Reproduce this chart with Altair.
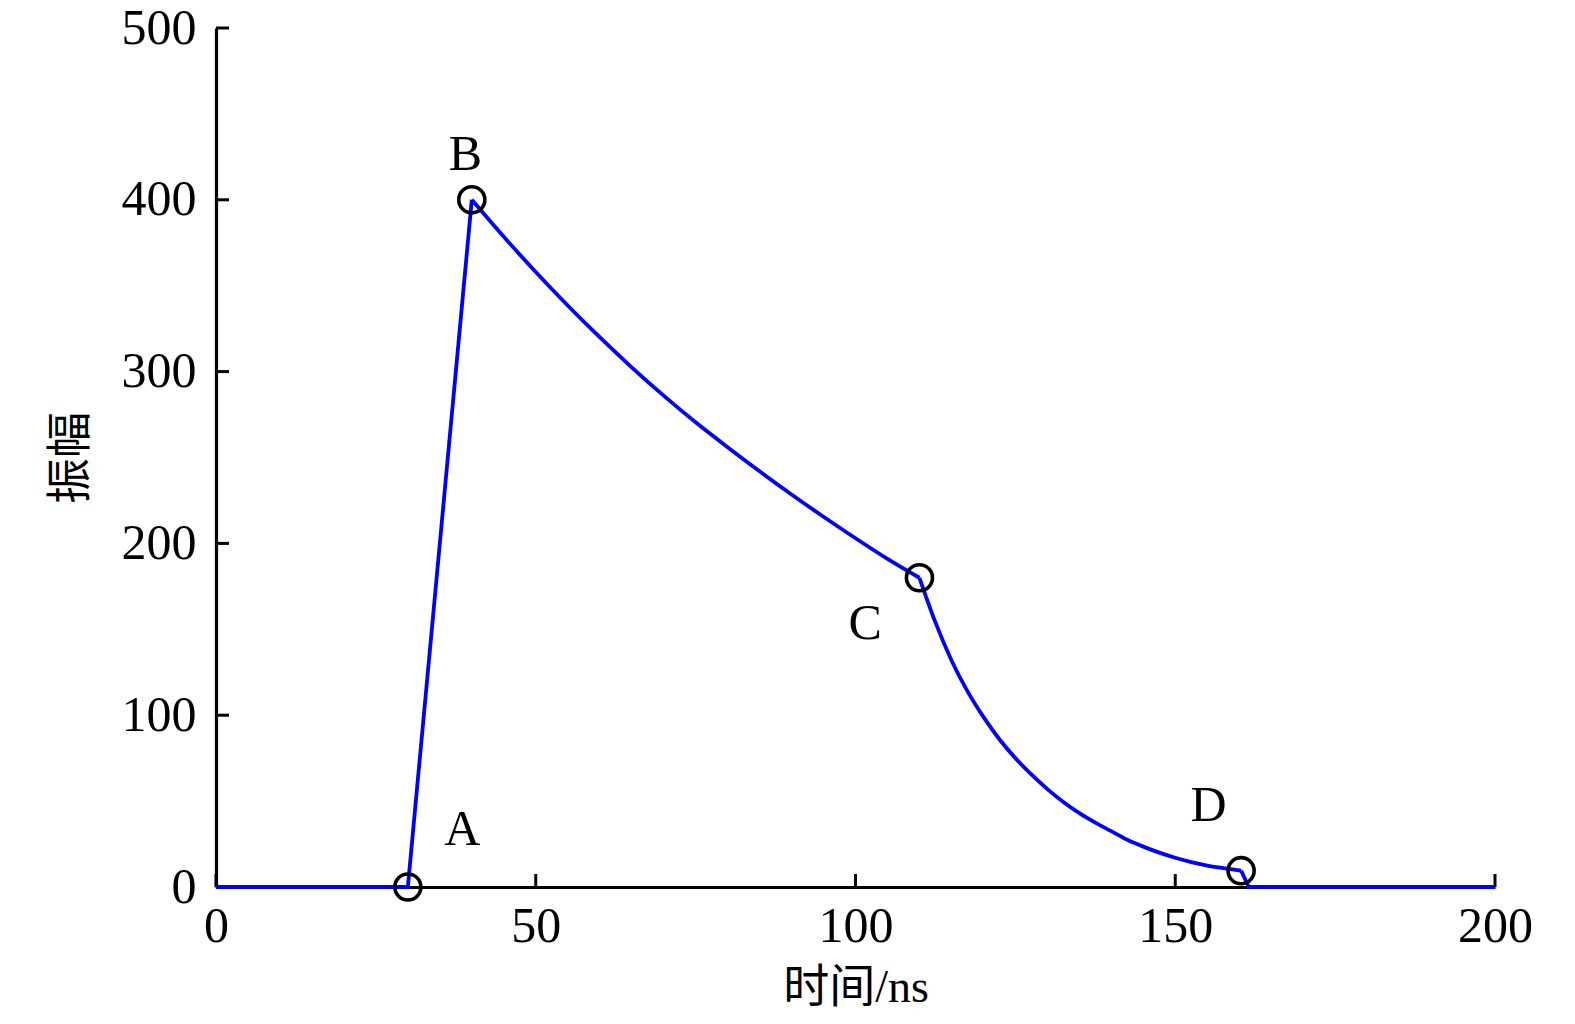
import altair as alt
import pandas as pd

# waveform readings (time in ns, amplitude), split into pieces
rise_t = [0, 30, 40]
rise_amp = [0, 0, 400]

bc_t = [40, 45, 50, 55, 60, 65, 70, 75, 80, 85, 90, 95, 100, 105, 110]
bc_amp = [400, 378.5, 358, 338.5, 320, 302.5, 286, 270.5, 256, 242, 228.5, 215.5, 203, 191, 180]

cd_t = [110, 112.5, 115, 117.5, 120, 122.5, 125, 127.5, 130, 132.5, 135, 137.5, 140,
        142.5, 145, 147.5, 150, 152.5, 155, 157.5, 160.3]
cd_amp = [180, 154, 132, 114, 99, 86, 75, 65.5, 57, 49.5, 43, 37.5, 32.5,
          27.5, 23.5, 20, 17, 14.5, 12.5, 11, 9.5]

tail_t = [160.3, 161.5, 200]
tail_amp = [9.5, 0, 0]

# key points A, B, C, D
key_t = [30, 40, 110, 160.3]
key_amp = [0, 400, 180, 9.5]

# point labels
lab_text = ["A", "B", "C", "D"]
lab_t = [38.5, 39.0, 101.5, 155.2]
lab_amp = [33, 426, 153, 47]

x_ticks = [0, 50, 100, 150, 200]
y_ticks = [0, 100, 200, 300, 400, 500]

W, H = 1279, 859
TICK = 13

def piece(name, ts, amps):
    return pd.DataFrame({"t": ts, "amp": amps, "seg": name})

straight = pd.concat([piece("rise", rise_t, rise_amp), piece("tail", tail_t, tail_amp)])
curved = pd.concat([piece("bc", bc_t, bc_amp), piece("cd", cd_t, cd_amp)])
keys = pd.DataFrame({"t": key_t, "amp": key_amp})
labs = pd.DataFrame({"t": lab_t, "amp": lab_amp, "txt": lab_text})
xt = pd.DataFrame({"v": x_ticks})
yt = pd.DataFrame({"v": y_ticks})

xs = alt.Scale(domain=[0, 200], nice=False, zero=False)
ys = alt.Scale(domain=[0, 500], nice=False)

x_axis = alt.Axis(values=x_ticks, title="时间/ns", labelPadding=14, titlePadding=14,
                  labelFlush=False, labelOverlap=False)
y_axis = alt.Axis(values=y_ticks, title="振幅", labelPadding=20, titlePadding=27,
                  labelFlush=False, labelOverlap=False)

BLUE = "#0000ff"
LW = 3.8

line1 = alt.Chart(straight).mark_line(color=BLUE, strokeWidth=LW).encode(
    x=alt.X("t:Q", scale=xs, axis=x_axis),
    y=alt.Y("amp:Q", scale=ys, axis=y_axis),
    detail="seg:N",
)

line2 = alt.Chart(curved).mark_line(color=BLUE, strokeWidth=LW, interpolate="monotone").encode(
    x=alt.X("t:Q", scale=xs),
    y=alt.Y("amp:Q", scale=ys),
    detail="seg:N",
)

pts = alt.Chart(keys).mark_point(shape="circle", filled=False, color="black",
                                 strokeWidth=3.6, size=680, opacity=1).encode(
    x=alt.X("t:Q", scale=xs),
    y=alt.Y("amp:Q", scale=ys),
)

txt = alt.Chart(labs).mark_text(font="Liberation Serif", fontSize=50, color="black",
                                align="center", baseline="middle").encode(
    x=alt.X("t:Q", scale=xs),
    y=alt.Y("amp:Q", scale=ys),
    text="txt:N",
)

xtick = alt.Chart(xt).mark_rule(color="black", strokeWidth=3).encode(
    x=alt.X("v:Q", scale=xs),
    y=alt.value(H),
    y2=alt.value(H - TICK),
)

ytick = alt.Chart(yt).mark_rule(color="black", strokeWidth=3).encode(
    y=alt.Y("v:Q", scale=ys),
    x=alt.value(0),
    x2=alt.value(TICK),
)

chart = alt.layer(xtick, ytick, line1, line2, pts, txt).properties(
    width=W, height=H,
    autosize=alt.AutoSizeParams(type="none"),
    padding={"left": 208, "top": 20, "right": 40, "bottom": 128},
).configure_view(stroke=None).configure_axis(
    grid=False,
    ticks=False,
    domainColor="black",
    domainWidth=3.2,
    labelFont="Liberation Serif",
    labelFontSize=50,
    labelColor="black",
    titleFont="Liberation Serif, Noto Sans CJK SC",
    titleFontSize=46,
    titleFontWeight="normal",
    titleColor="black",
)

chart.save("out.html", embed_options={"renderer": "svg", "actions": False})
